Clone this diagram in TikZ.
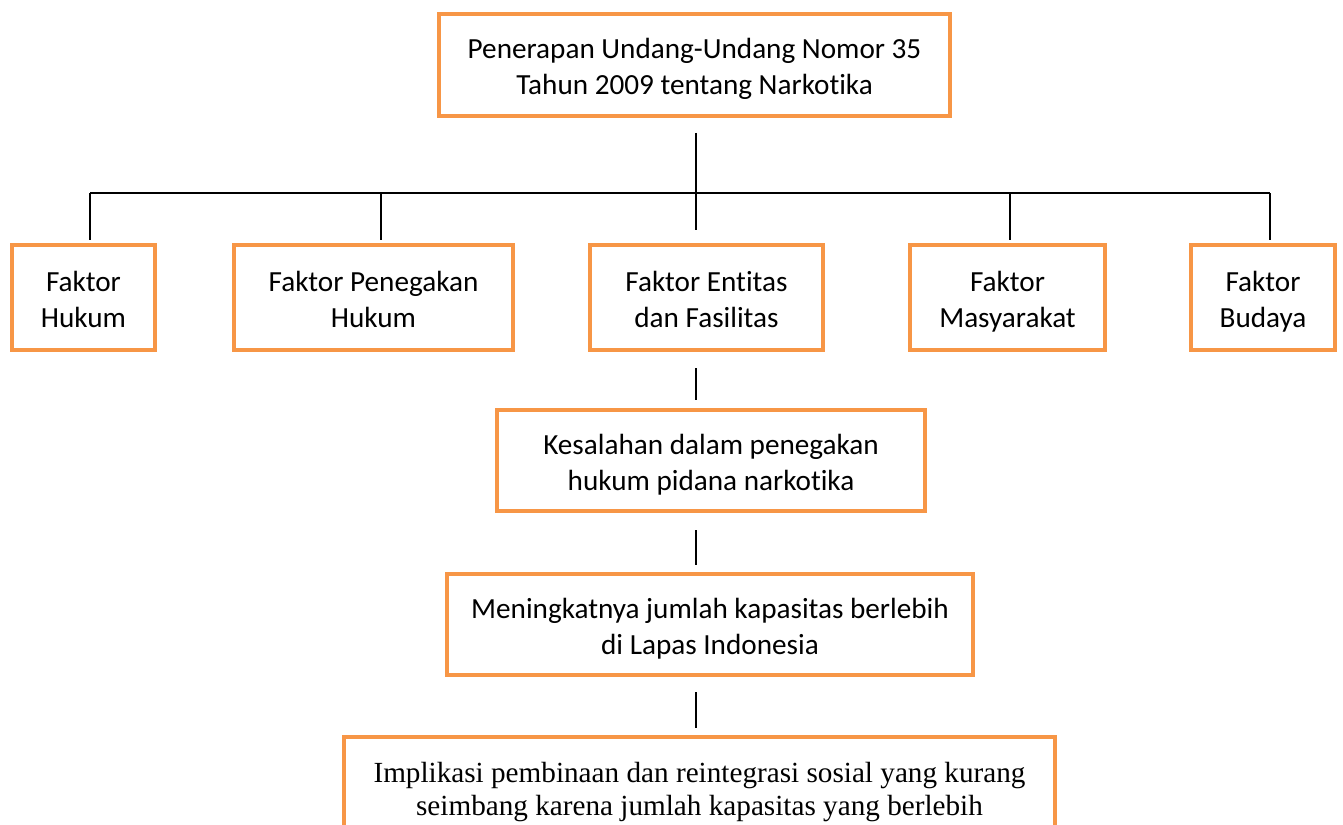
\documentclass[tikz,border=0pt]{standalone}
\usepackage{fontspec}
\setmainfont{Carlito}[Ligatures=NoCommon]
\newfontfamily\timesfont{Liberation Serif}
\definecolor{boxorange}{HTML}{F79646}
\newcommand{\topstrut}{\rule{0pt}{33.8pt}}
\newcommand{\botstrut}{\rule[-3.8pt]{0pt}{3.8pt}}
\tikzstyle{frame}=[draw=boxorange,line width=2pt,align=center,inner sep=0pt]
\tikzstyle{box}=[frame,font=\fontsize{14.6}{18}\selectfont,execute at begin node=\topstrut,execute at end node=\botstrut]
\tikzstyle{tbox}=[frame,font=\timesfont\fontsize{14.6}{16.8}\selectfont,execute at end node=\strut]
\tikzstyle{link}=[black,line width=0.8pt]

\begin{document}
\begin{tikzpicture}[x=0.5pt,y=-0.5pt]
    \clip (0,0) rectangle (1343,824);
    \node[box,minimum width=255.5pt,minimum height=51pt] (top) at (694.5,65) {Penerapan Undang-Undang Nomor 35\\Tahun 2009 tentang Narkotika};
%   row of factors
    \node[box,minimum width=71.5pt,minimum height=52.5pt] (hukum) at (83.5,297.5) {Faktor\\Hukum};
    \node[box,minimum width=139.5pt,minimum height=52.5pt] (penegak) at (373.5,297.5) {Faktor Penegakan\\Hukum};
    \node[box,minimum width=116.5pt,minimum height=52.5pt] (entitas) at (706.5,297.5) {Faktor Entitas\\dan Fasilitas};
    \node[box,minimum width=97.5pt,minimum height=52.5pt] (masy) at (1007.5,297.5) {Faktor\\Masyarakat};
    \node[box,minimum width=72pt,minimum height=52.5pt] (budaya) at (1263,297.5) {Faktor\\Budaya};
%   chain below
    \node[box,minimum width=214pt,minimum height=50.5pt] (salah) at (711,460.5) {Kesalahan dalam penegakan\\hukum pidana narkotika};
    \node[box,minimum width=263pt,minimum height=50.5pt] (kapasitas) at (710,624.5) {Meningkatnya jumlah kapasitas berlebih\\di Lapas Indonesia};
    \node[tbox,minimum width=355.5pt,minimum height=57pt] (implikasi) at (699.5,794) {Implikasi pembinaan dan reintegrasi sosial yang kurang\\seimbang karena jumlah kapasitas yang berlebih};
	 \coordinate (b1) at (90,193);
	 \coordinate (b2) at (381,193);
	 \coordinate (spine) at (696,193);
	 \coordinate (b4) at (1010,193);
	 \coordinate (b5) at (1270,193);
	 \draw[link] (b1) -- (b5);
	 \draw[link,shorten <=7.5pt] (top.south -| spine) -- (spine);
	 \draw[link,shorten >=6.5pt] (spine) -- (spine |- entitas.north);
	 \draw[link,shorten >=1.5pt] (b1) -- (b1 |- hukum.north);
	 \draw[link,shorten >=1.5pt] (b2) -- (b2 |- penegak.north);
	 \draw[link,shorten >=1.5pt] (b4) -- (b4 |- masy.north);
	 \draw[link,shorten >=1.5pt] (b5) -- (b5 |- budaya.north);
	 \draw[link,shorten <=8pt,shorten >=4pt] (entitas.south -| spine) -- (salah.north -| spine);
	 \draw[link,shorten <=8.5pt,shorten >=3.5pt] (salah.south -| spine) -- (kapasitas.north -| spine);
	 \draw[link,shorten <=7.5pt,shorten >=3.5pt] (kapasitas.south -| spine) -- (implikasi.north -| spine);
\end{tikzpicture}
\end{document}
